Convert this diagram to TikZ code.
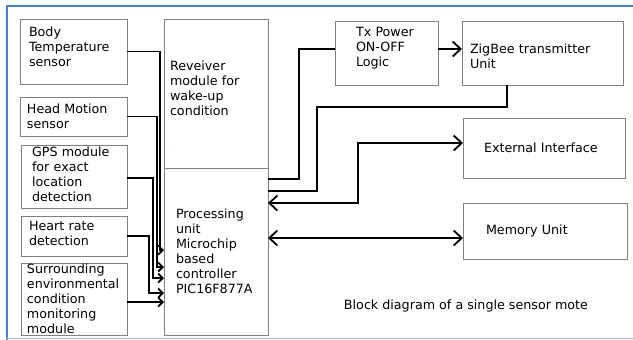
\documentclass[tikz,border=0pt]{standalone}
\usepackage{fontspec}
\setmainfont{DejaVu Sans}
\usetikzlibrary{arrows.meta}
\definecolor{framebl}{RGB}{79,129,189}
\definecolor{framelt}{RGB}{168,190,216}
\definecolor{boxgray}{RGB}{128,128,128}

\begin{document}
\begin{tikzpicture}[
	x=1pt, y=-1pt,
	font=\fontsize{12.7}{15}\selectfont,
	block/.style={
		rectangle, draw=boxgray, line width=1pt,
		anchor=north west, align=left, inner ysep=0pt, outer sep=0pt
	},
	wire/.style={draw, line width=1.8pt},
	sline/.style={wire, -{Straight Barb[length=4.5pt, width=9pt]}},
	line/.style={wire, -{Straight Barb[length=8pt, width=15pt]}},
	dline/.style={wire, {Straight Barb[length=8pt, width=15pt]}-{Straight Barb[length=8pt, width=15pt]}},
	]
	\useasboundingbox (0,0) rectangle (633,340);

	% page frame
	\draw[framebl, line width=2pt] (633,5.5) -- (6.5,5.5) -- (6.5,340);
	\draw[framelt, line width=1.5pt] (6,338.5) -- (633,338.5);

	% sensors
	\node [block, minimum width=107pt, minimum height=65pt, text width=89pt, inner xsep=9pt] (body) at (20,19) {Body\\Temperature\\sensor\\[-6pt]\mbox{}};
	\node [block, minimum width=107pt, minimum height=39pt, text width=93pt, inner xsep=7pt] (head) at (20,97) {Head Motion\\sensor};
	\node [block, minimum width=106pt, minimum height=63pt, text width=84pt, inner xsep=11pt] (gps) at (21,145) {GPS module\\for exact\\location\\detection\\[-10pt]\mbox{}};
	\node [block, minimum width=106pt, minimum height=40pt, text width=90pt, inner xsep=8pt] (heart) at (21,216) {Heart rate\\detection\\[-9pt]\mbox{}};
	\node [block, minimum width=106pt, minimum height=72pt, text width=94pt, inner xsep=6pt] (surr) at (21,263) {Surrounding\\environmental\\condition\\monitoring\\module};

	% controller
	\node [block, minimum width=104pt, minimum height=149pt, text width=92pt, inner xsep=6pt] (recv) at (164,19) {Reveiver\\module for\\wake-up\\condition\\[-4pt]\mbox{}};
	\node [text=gray, font=\tiny, inner sep=0pt] (recvdot) at (175,150) {.};
	\node [block, minimum width=104pt, minimum height=167pt, text width=80pt, inner xsep=12pt] (proc) at (164,168) {Processing\\unit\\Microchip\\based\\controller\\PIC16F877A};

	% radio and peripherals
	\node [block, minimum width=103pt, minimum height=64pt, text width=61pt, inner xsep=21pt] (tx) at (335,21) {Tx Power\\ON-OFF\\Logic\\[-3pt]\mbox{}};
	\node [block, minimum width=161pt, minimum height=64pt, text width=145pt, inner xsep=8pt] (zig) at (462,21) {\mbox{}\\[1.5pt]ZigBee transmitter\\Unit};
	\node [block, minimum width=162pt, minimum height=60pt, text width=120pt, inner xsep=21pt] (ext) at (463,118) {External Interface};
	\node [block, minimum width=164pt, minimum height=56pt, text width=118pt, inner xsep=23pt] (mem) at (463,203) {Memory Unit};

	\node (cap) at (466,306) {Block diagram of a single sensor mote};

	% sensor inputs
	\path [sline] (body.east) -- ++(33,0) |- ([yshift=1.5pt]proc.west);
	\path [sline] (head.east) -- ++(30,0) |- ([yshift=-15.5pt]proc.west);
	\path [sline] ([yshift=-1.5pt]gps.east) -- ++(26,0) |- ([yshift=-26.5pt]proc.west);
	\path [sline] (heart.east) -- ++(22,0) |- ([yshift=-41.5pt]proc.west);
	\path [sline] ([yshift=-3pt]surr.east) -- ([yshift=-50.5pt]proc.west);

	% radio path
	\path [wire] ([yshift=-11pt]proc.north east) -- ++(31,0) |- ([yshift=4pt]tx.west);
	\path [line] ([yshift=4pt]tx.east) -- ([yshift=4pt]zig.west);
	\path [wire] ([xshift=-35.5pt]zig.south) -- ++(0,22) -- ++(-190,0) |- ([yshift=-23pt]proc.north east);

	% peripherals
	\path [dline] ([yshift=-35pt]proc.north east) -- ++(90,0) |- ([yshift=5pt]ext.west);
	\path [dline] ([yshift=13.5pt]proc.east) -- ([yshift=-7pt]mem.west);
\end{tikzpicture}
\end{document}
